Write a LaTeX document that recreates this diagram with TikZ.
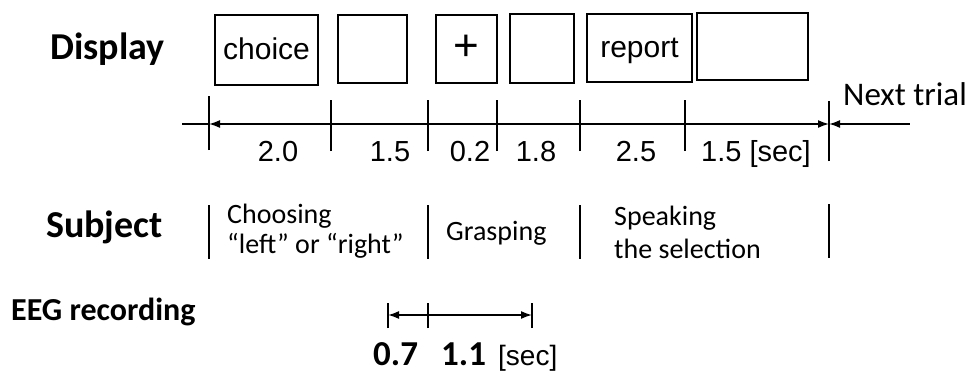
\documentclass[tikz,border=0pt]{standalone}
\usepackage{fontspec}
\setmainfont{Carlito}
\newfontfamily\arialfont{Liberation Sans}
\usetikzlibrary{arrows.meta}
\begin{document}
\begin{tikzpicture}[x=1pt,y=-1pt,
  screen/.style={draw,line width=2pt,inner sep=0pt,text height=20pt,text depth=0pt,
    font=\arialfont\fontsize{30}{34}\selectfont},
  rowlabel/.style={inner sep=0pt,font=\bfseries\fontsize{38}{42}\selectfont},
  eeglabel/.style={inner sep=0pt,font=\bfseries\fontsize{32}{36}\selectfont},
  note/.style={inner sep=0pt,font=\fontsize{33}{37}\selectfont},
  act/.style={inner sep=0pt,align=left,font=\fontsize{28}{29.5}\selectfont},
  num/.style={inner sep=0pt,font=\arialfont\fontsize{29}{33}\selectfont},
  eegnum/.style={inner sep=0pt,font=\bfseries\fontsize{35}{39}\selectfont},
  unit/.style={inner sep=0pt,font=\arialfont\fontsize{28}{32}\selectfont},
  tick/.style={line width=1.8pt},
  bar/.style={line width=2.4pt},
  axis/.style={line width=1.6pt},
  tip/.tip={Latex[length=11pt,width=8pt]}
]
\useasboundingbox (0,0) rectangle (976,377);

% row labels
\node[rowlabel,anchor=base west] (display) at (50,60) {Display};
\node[rowlabel,anchor=base west] (subject) at (46,237) {Subject};
\node[eeglabel,anchor=base west] (eeg) at (11,320) {EEG recording};

% display screens
\node[screen,minimum width=103pt,minimum height=70pt] (s1) at (266.5,50) {choice};
\node[screen,minimum width=69pt,minimum height=68pt] (s2) at (372.5,49) {};
\node[screen,minimum width=61pt,minimum height=68pt] (s3) at (466.5,49)
  {\fontsize{44}{44}\selectfont\raisebox{-2pt}{+}};
\node[screen,minimum width=64pt,minimum height=69pt] (s4) at (542,48.5) {};
\node[screen,minimum width=105pt,minimum height=68pt] (s5) at (639.5,48) {report};
\node[screen,minimum width=111pt,minimum height=67pt] (s6) at (752.5,46.5) {};

% time axis
\coordinate (a0) at (182,124);
\coordinate (a7) at (910,124);
\coordinate (t0) at (209,124);
\coordinate (t1) at (331,124);
\coordinate (t2) at (428,124);
\coordinate (t3) at (497,124);
\coordinate (t4) at (580,124);
\coordinate (t5) at (685,124);
\coordinate (t6) at (829,124);

\draw[axis] (a0) -- (t0);
\draw[axis,tip-tip] (t0) -- (t6);
\draw[axis,tip-] (t6) -- (a7);

\draw[tick] ([yshift=-26pt]t0) -- ([yshift=28pt]t0);
\foreach \t in {t1,t2,t3,t4,t5}
  \draw[tick] ([yshift=-27pt]\t) -- ([yshift=24pt]\t);
\draw[tick] ([yshift=-37pt]t6) -- ([yshift=23pt]t6);

\node[note,anchor=base west] (next) at (843,106) {Next trial};

% durations
\node[num,anchor=base] (d1) at (278,161) {2.0};
\node[num,anchor=base] (d2) at (390,161) {1.5};
\node[num,anchor=base] (d3) at (470,161) {0.2};
\node[num,anchor=base] (d4) at (536,161) {1.8};
\node[num,anchor=base] (d5) at (636,161) {2.5};
\node[num,anchor=base west] (d6) at (701,161) {1.5 [sec]};

% subject activity
\coordinate (b0) at (209,205);
\coordinate (b1) at (428,205);
\coordinate (b2) at (580,205);
\coordinate (b3) at (829,204);
\foreach \b in {b0,b1,b2,b3}
  \draw[bar] (\b) -- ++(0,54);

\node[act,anchor=north west] (choose) at (227,204) {Choosing\\“left” or “right”};
\node[act,anchor=base west] (grasp) at (446,240) {Grasping};
\node[act,anchor=north west,font=\fontsize{28}{33}\selectfont] (speak) at (614,206)
  {Speaking\\the selection};

% EEG window
\coordinate (e0) at (388,315);
\coordinate (e1) at (428,315);
\coordinate (e2) at (532,315);
\draw[axis,tip-tip] (e0) -- (e2);
\foreach \e in {e0,e1,e2}
  \draw[tick] ([yshift=-13pt]\e) -- ([yshift=12pt]\e);

\node[eegnum,anchor=base west] (v1) at (373,365) {0.7};
\node[eegnum,anchor=base west] (v2) at (441,365) {1.1};
\node[unit,anchor=base west] (u) at (498,365) {[sec]};
\end{tikzpicture}
\end{document}
